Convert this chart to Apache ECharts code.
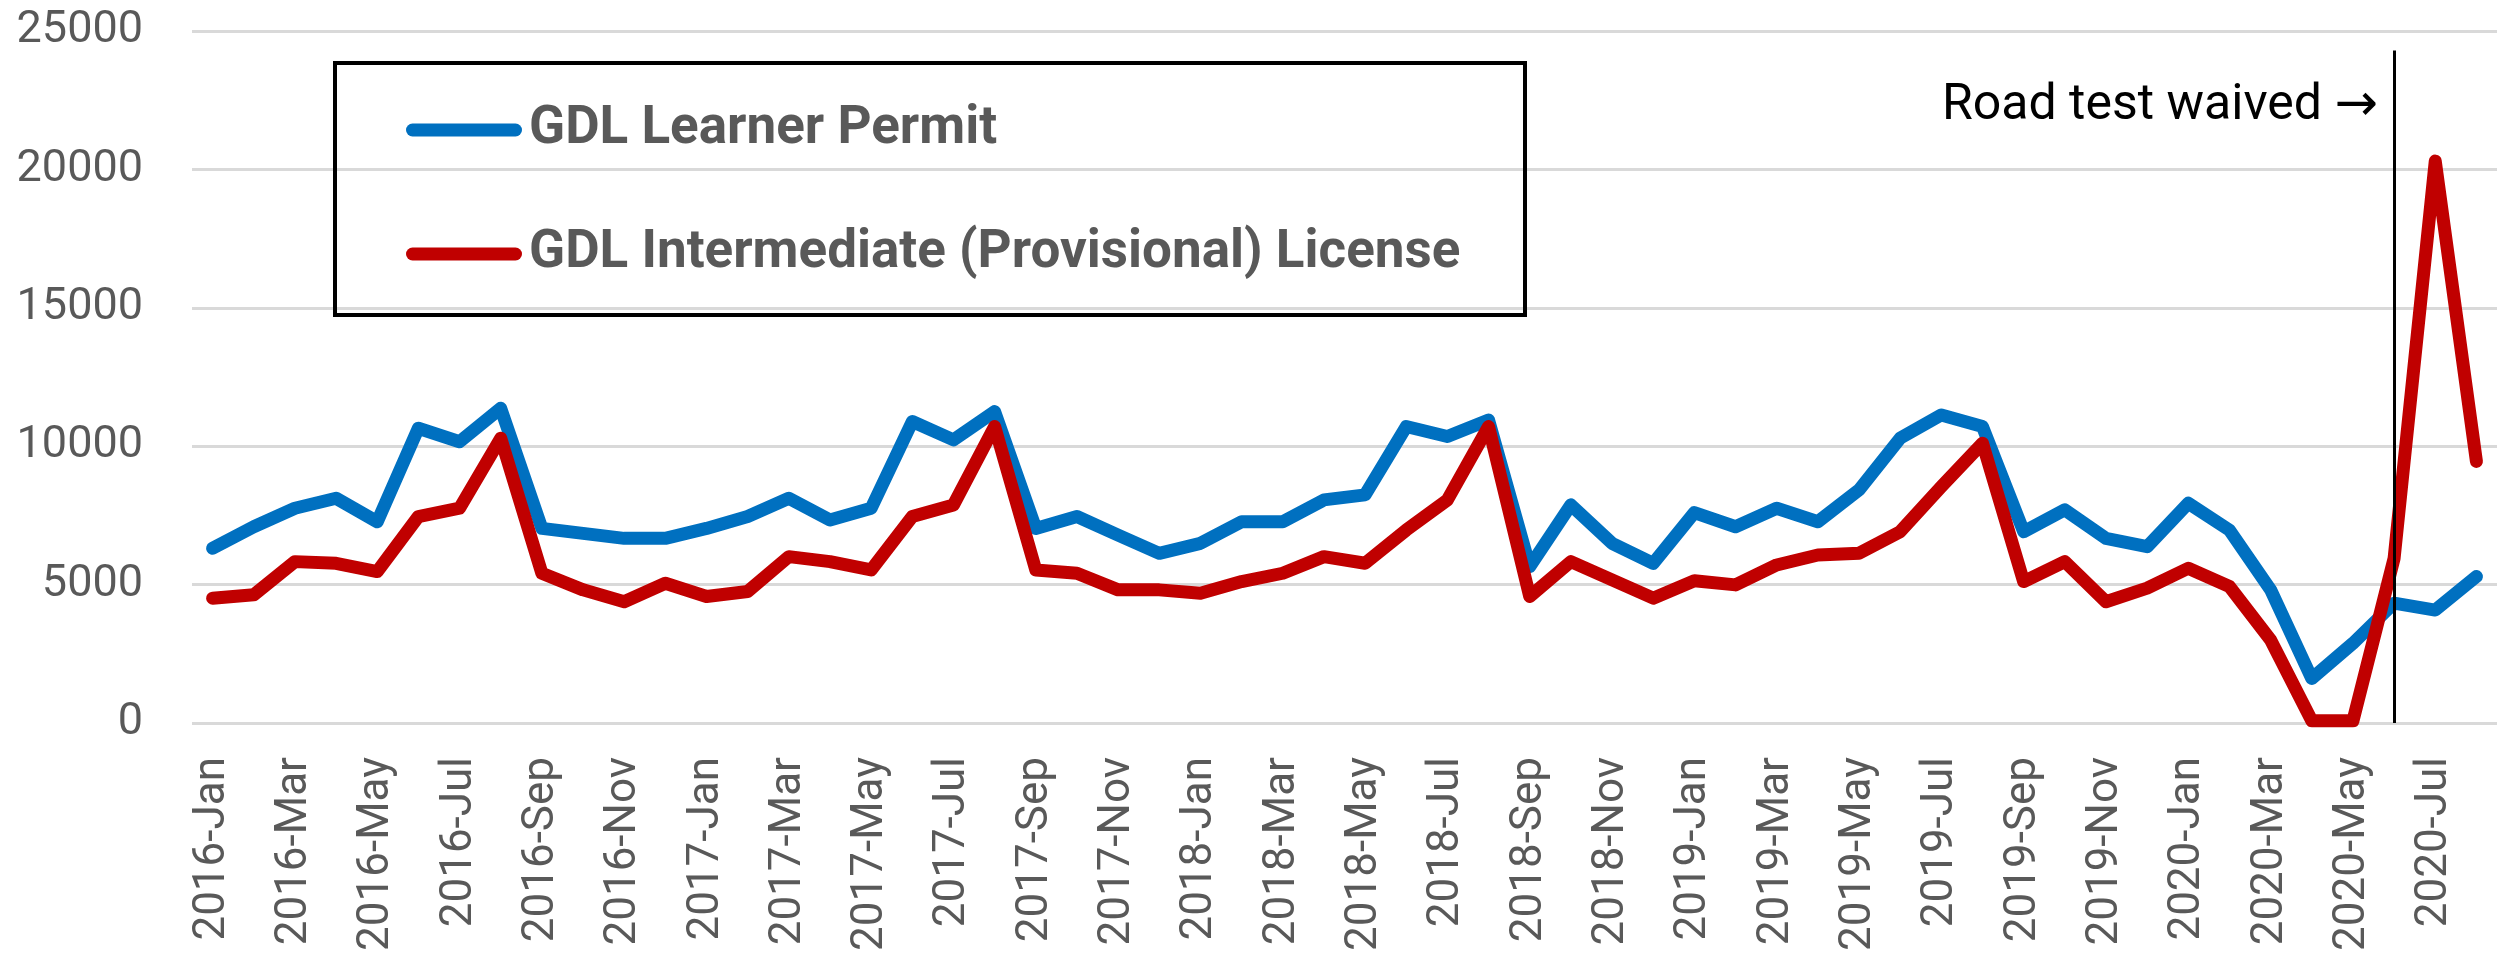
<!DOCTYPE html>
<html>
<head>
<meta charset="utf-8">
<script src="https://cdn.jsdelivr.net/npm/echarts@6/dist/echarts.min.js"></script>
<style>
  html, body { margin: 0; padding: 0; background: #fff; }
  #main { width: 2505px; height: 962px; }
</style>
</head>
<body>
<div id="main"></div>
<script>
// monthly categories, 2016-Jan .. 2020-Aug
const months = [
  '2016-Jan','2016-Feb','2016-Mar','2016-Apr','2016-May','2016-Jun','2016-Jul','2016-Aug','2016-Sep','2016-Oct','2016-Nov','2016-Dec',
  '2017-Jan','2017-Feb','2017-Mar','2017-Apr','2017-May','2017-Jun','2017-Jul','2017-Aug','2017-Sep','2017-Oct','2017-Nov','2017-Dec',
  '2018-Jan','2018-Feb','2018-Mar','2018-Apr','2018-May','2018-Jun','2018-Jul','2018-Aug','2018-Sep','2018-Oct','2018-Nov','2018-Dec',
  '2019-Jan','2019-Feb','2019-Mar','2019-Apr','2019-May','2019-Jun','2019-Jul','2019-Aug','2019-Sep','2019-Oct','2019-Nov','2019-Dec',
  '2020-Jan','2020-Feb','2020-Mar','2020-Apr','2020-May','2020-Jun','2020-Jul','2020-Aug'
];

const learnerPermit = [
  6310, 7090, 7760, 8120, 7270, 10650, 10160, 11370, 7030, 6850, 6670, 6670,
  7030, 7460, 8120, 7330, 7760, 10890, 10230, 11250, 7030, 7460, 6790, 6130,
  6490, 7270, 7270, 8060, 8240, 10710, 10350, 10950, 5650, 7880, 6490, 5770,
  7600, 7090, 7760, 7270, 8420, 10290, 11130, 10710, 6910, 7700, 6670, 6370,
  7940, 6970, 4810, 1610, 2880, 4330, 4080, 5290
];

const intermediateLicense = [
  4510, 4630, 5830, 5770, 5470, 7460, 7760, 10290, 5410, 4810, 4380, 5050,
  4570, 4750, 6010, 5830, 5530, 7460, 7880, 10710, 5530, 5410, 4810, 4810,
  4690, 5110, 5410, 6010, 5770, 6970, 8060, 10710, 4570, 5830, 5170, 4510,
  5140, 4990, 5710, 6070, 6130, 6910, 8540, 10110, 5110, 5830, 4380, 4870,
  5590, 4930, 3000, 80, 80, 5950, 20300, 9450
];

const seriesNames = ['GDL Learner Permit', 'GDL Intermediate (Provisional) License'];
const waivedMonth = '2020-Jun';
const yTicks = [0, 5000, 10000, 15000, 20000, 25000];

const chart = echarts.init(document.getElementById('main'), null, { renderer: 'canvas' });

const labelFont = 'Roboto, "Noto Sans", sans-serif';
const legendIcon = 'path://M6.5,0 H109.5 A6.5,6.5 0 0 1 109.5,13 H6.5 A6.5,6.5 0 0 1 6.5,0 Z';

const option = {
  animation: false,
  backgroundColor: '#fff',
  grid: {
    left: 192,
    right: 8,
    top: 31,
    bottom: 239,
    containLabel: false,
    outerBoundsMode: 'none'
  },
  legend: {
    left: 406,
    top: 98,
    orient: 'vertical',
    padding: 0,
    itemGap: 60,
    itemWidth: 116,
    itemHeight: 13,
    icon: legendIcon,
    data: seriesNames,
    selectedMode: false,
    textStyle: {
      fontFamily: labelFont,
      fontWeight: 'bold',
      fontSize: 53,
      lineHeight: 64,
      color: '#595959',
      padding: [0, 0, 0, 2]
    }
  },
  xAxis: {
    type: 'category',
    data: months,
    boundaryGap: true,
    axisLine: { show: false },
    axisTick: { show: false },
    axisLabel: {
      interval: 1,
      rotate: 90,
      margin: 34,
      fontFamily: labelFont,
      fontSize: 44,
      color: '#595959'
    }
  },
  yAxis: {
    type: 'value',
    min: yTicks[0],
    max: yTicks[yTicks.length - 1],
    interval: 5000,
    axisLine: { show: false },
    axisTick: { show: false },
    axisLabel: {
      margin: 49,
      fontFamily: labelFont,
      fontSize: 45,
      color: '#595959',
      formatter: (v) => String(v)
    },
    splitLine: {
      lineStyle: { color: '#D9D9D9', width: 3 }
    }
  },
  series: [
    {
      name: seriesNames[0],
      type: 'line',
      data: learnerPermit,
      symbol: 'none',
      itemStyle: { color: '#0070C0' },
      lineStyle: { color: '#0070C0', width: 13, cap: 'round', join: 'round' }
    },
    {
      name: seriesNames[1],
      type: 'line',
      data: intermediateLicense,
      symbol: 'none',
      itemStyle: { color: '#C00000' },
      lineStyle: { color: '#C00000', width: 13, cap: 'round', join: 'round' },
      markLine: {
        silent: true,
        symbol: ['none', 'none'],
        label: { show: false },
        lineStyle: { color: '#000', width: 3, type: 'solid' },
        data: [[
          { xAxis: waivedMonth, yAxis: 0 },
          { xAxis: waivedMonth, yAxis: 24300 }
        ]]
      }
    }
  ],
  graphic: [
    {
      type: 'rect',
      shape: { x: 335, y: 63, width: 1190, height: 252 },
      style: { fill: 'none', stroke: '#000', lineWidth: 4 },
      z: 10
    },
    {
      type: 'text',
      style: {
        x: 2378,
        y: 106,
        text: 'Road test waived {a|\u2192}',
        font: '50px Roboto, "Noto Sans", sans-serif',
        fill: '#000',
        align: 'right',
        verticalAlign: 'middle',
        rich: {
          a: { fontFamily: '"DejaVu Sans", sans-serif', fontSize: 52, fill: '#000' }
        }
      },
      z: 10
    }
  ]
};

chart.setOption(option);
</script>
</body>
</html>
